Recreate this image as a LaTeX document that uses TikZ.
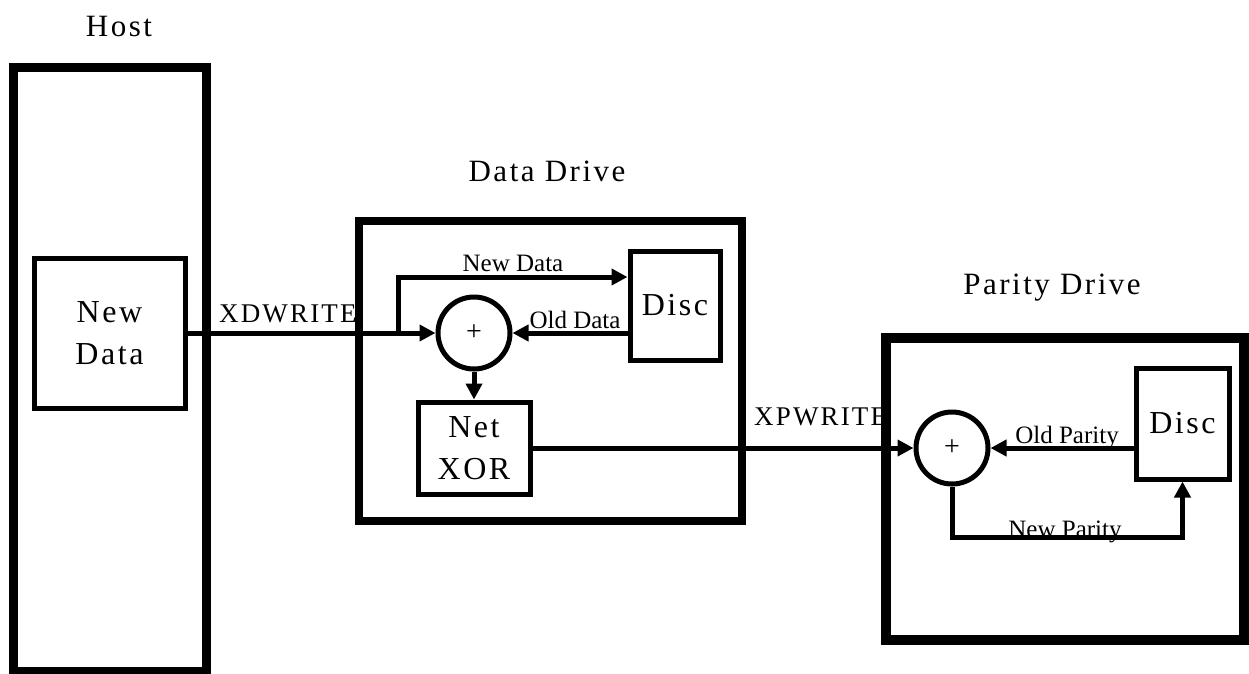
\documentclass[tikz,border=0pt]{standalone}
\usepackage{fontspec}
\setmainfont{Liberation Serif}
\newfontfamily\spaced[LetterSpace=8]{Liberation Serif}
\usetikzlibrary{arrows.meta}
\tikzset{
  outerbox/.style={draw, line width=9pt, rectangle, inner sep=0pt},
  innerbox/.style={draw, line width=5pt, rectangle, inner sep=0pt, align=center,
     font=\spaced\fontsize{32}{42}\selectfont},
  xorcirc/.style={draw, line width=5pt, circle, minimum size=72pt, inner sep=0pt,
     font=\fontsize{28}{30}\selectfont},
  title/.style={font=\spaced\fontsize{31}{34}\selectfont, inner sep=0pt},
  cmd/.style={font=\spaced\fontsize{27}{30}\selectfont, inner sep=0pt},
  small/.style={font=\fontsize{25}{28}\selectfont, inner sep=0pt},
  conn/.style={line width=5pt, -{Triangle[length=16pt,width=16pt]}},
}
\begin{document}
\begin{tikzpicture}[x=1pt,y=-1pt]
\useasboundingbox (0,0) rectangle (1249,673);
% labels
\node[title] (lhost) at (119,26) {Host};
\node[title] (ldata) at (547,171) {Data Drive};
\node[title] (lpar) at (1052,288) {Parity Drive};
\node[cmd, anchor=base west] (lxd) at (219,322) {XDWRITE};
\node[cmd, anchor=base west] (lxp) at (754,425) {XPWRITE};
% outer boxes
\node[outerbox, minimum width=193pt, minimum height=604pt] (host) at (109.5,369) {};
\node[outerbox, line width=8pt, minimum width=383pt, minimum height=300pt] (ddrive) at (550.5,371) {};
\node[outerbox, line width=10pt, minimum width=358pt, minimum height=302pt] (pdrive) at (1065,489) {};
% inner boxes
\node[innerbox, minimum width=151pt, minimum height=150pt] (newdata) at (109.5,333) {New\\Data};
\node[innerbox, minimum width=90pt, minimum height=109pt] (ddisc) at (675,305.5) {Disc};
\node[innerbox, minimum width=112pt, minimum height=92pt] (netxor) at (474,448) {Net\\XOR};
\node[innerbox, minimum width=93pt, minimum height=111pt] (pdisc) at (1182.5,423.5) {Disc};
% xor circles
\node[xorcirc] (dxor) at (474,333) {+};
\node[xorcirc] (pxor) at (952,448) {+};
% coordinates
\coordinate (br) at (398,333);
\coordinate (ndtop) at (398,277);
\coordinate (npc) at (1182.5,537);
% connectors
\draw[conn] (newdata.east) -- (dxor.west);
\draw[conn] (br) |- (ddisc.west |- ndtop);
\draw[conn] (ddisc.west |- dxor.east) -- (dxor.east);
\draw[conn] (dxor.south) -- (netxor.north);
\draw[conn] (netxor.east) -- (pxor.west);
\draw[conn] (pdisc.west |- pxor.east) -- (pxor.east);
\draw[conn] (pxor.south) |- (npc) -- (pdisc.south);
% connector labels
\node[small] (lnd) at (513,263) {New Data};
\node[small] (lod) at (575,320) {Old Data};
\node[small] (lop) at (1067,438) {Old Parity};
\node[small, anchor=base] (lnp) at (1065,537) {New Parity};
\end{tikzpicture}
\end{document}
